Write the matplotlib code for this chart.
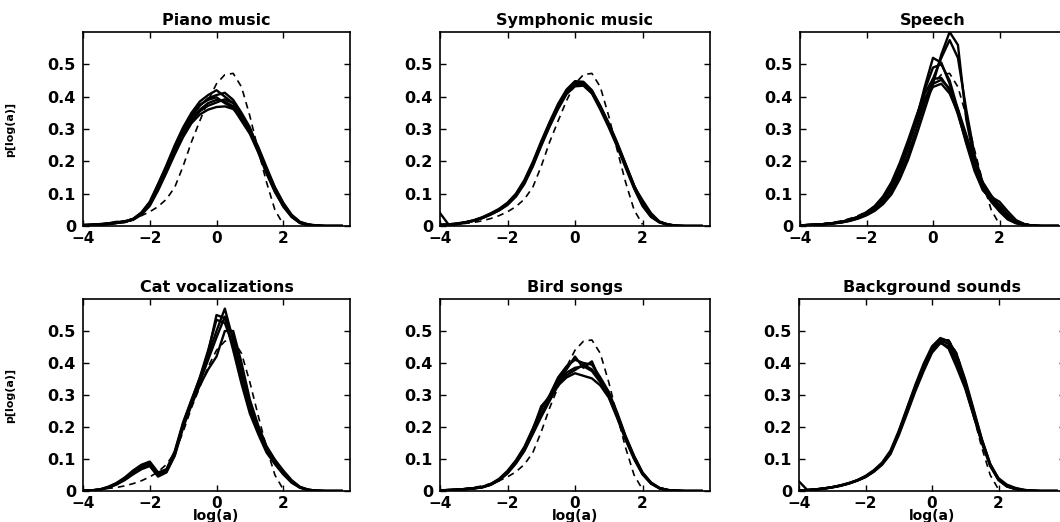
import matplotlib
matplotlib.use("Agg")
import matplotlib.pyplot as plt

plt.rcParams["font.family"] = ["DejaVu Sans"]
plt.rcParams["font.weight"] = "bold"

# common grid of log(a) values used for every curve
x = [-4, -3.75, -3.5, -3.25, -3, -2.75, -2.5, -2.25, -2, -1.75, -1.5, -1.25,
     -1, -0.75, -0.5, -0.25, 0, 0.25, 0.5, 0.75, 1, 1.25, 1.5, 1.75,
     2, 2.25, 2.5, 2.75, 3, 3.25, 3.5, 3.75]

# dashed reference curve (same in every panel)
x_ref = x[:25]
ref = [0.002, 0.003, 0.005, 0.008, 0.011, 0.016, 0.023, 0.032, 0.044, 0.060,
       0.083, 0.120, 0.185, 0.260, 0.325, 0.388, 0.440, 0.468, 0.472, 0.430,
       0.340, 0.235, 0.135, 0.050, 0.005]

piano = [
    [0.003, 0.004, 0.005, 0.007, 0.010, 0.013, 0.020, 0.038, 0.068, 0.120, 0.175, 0.235, 0.290, 0.330, 0.360, 0.380,
     0.390, 0.385, 0.370, 0.330, 0.290, 0.230, 0.165, 0.110, 0.065, 0.030, 0.010, 0.004, 0.001, 0, 0, 0],
    [0.002, 0.003, 0.005, 0.008, 0.013, 0.012, 0.022, 0.042, 0.075, 0.130, 0.188, 0.250, 0.305, 0.350, 0.385, 0.405,
     0.420, 0.400, 0.380, 0.345, 0.300, 0.240, 0.175, 0.115, 0.068, 0.033, 0.012, 0.004, 0.001, 0, 0, 0],
    [0.003, 0.004, 0.006, 0.008, 0.011, 0.014, 0.019, 0.035, 0.062, 0.110, 0.165, 0.222, 0.275, 0.318, 0.345, 0.360,
     0.368, 0.370, 0.362, 0.335, 0.298, 0.245, 0.182, 0.120, 0.072, 0.035, 0.013, 0.005, 0.002, 0, 0, 0],
    [0.002, 0.003, 0.004, 0.006, 0.009, 0.015, 0.021, 0.040, 0.070, 0.125, 0.180, 0.240, 0.298, 0.338, 0.372, 0.395,
     0.405, 0.412, 0.390, 0.350, 0.305, 0.238, 0.170, 0.108, 0.060, 0.028, 0.009, 0.003, 0.001, 0, 0, 0],
    [0.003, 0.004, 0.005, 0.007, 0.010, 0.012, 0.020, 0.036, 0.066, 0.118, 0.170, 0.228, 0.285, 0.325, 0.355, 0.372,
     0.382, 0.392, 0.380, 0.340, 0.295, 0.235, 0.172, 0.118, 0.070, 0.032, 0.011, 0.004, 0.001, 0, 0, 0],
    [0.002, 0.003, 0.004, 0.006, 0.009, 0.013, 0.021, 0.039, 0.072, 0.128, 0.182, 0.245, 0.300, 0.345, 0.375, 0.390,
     0.398, 0.380, 0.365, 0.325, 0.285, 0.228, 0.162, 0.105, 0.062, 0.029, 0.010, 0.003, 0.001, 0, 0, 0],
]

symphonic = [
    [0.004, 0.004, 0.007, 0.011, 0.017, 0.025, 0.037, 0.050, 0.068, 0.095, 0.135, 0.190, 0.255, 0.315, 0.370, 0.415,
     0.440, 0.440, 0.415, 0.365, 0.310, 0.250, 0.185, 0.120, 0.065, 0.030, 0.012, 0.004, 0.001, 0, 0, 0],
    [0.040, 0.005, 0.008, 0.012, 0.018, 0.027, 0.039, 0.053, 0.072, 0.100, 0.142, 0.198, 0.262, 0.322, 0.378, 0.422,
     0.448, 0.446, 0.420, 0.370, 0.315, 0.255, 0.190, 0.125, 0.070, 0.033, 0.013, 0.005, 0.001, 0, 0, 0],
    [0.003, 0.004, 0.006, 0.010, 0.016, 0.024, 0.035, 0.048, 0.065, 0.091, 0.130, 0.184, 0.248, 0.308, 0.362, 0.408,
     0.432, 0.434, 0.410, 0.360, 0.305, 0.245, 0.180, 0.116, 0.062, 0.028, 0.011, 0.004, 0.001, 0, 0, 0],
    [0.004, 0.005, 0.007, 0.011, 0.017, 0.026, 0.038, 0.051, 0.070, 0.097, 0.138, 0.193, 0.258, 0.318, 0.372, 0.418,
     0.445, 0.438, 0.412, 0.368, 0.312, 0.252, 0.188, 0.123, 0.080, 0.040, 0.014, 0.005, 0.001, 0, 0, 0],
    [0.003, 0.004, 0.006, 0.011, 0.016, 0.025, 0.036, 0.049, 0.067, 0.094, 0.134, 0.188, 0.252, 0.312, 0.368, 0.412,
     0.438, 0.443, 0.418, 0.372, 0.318, 0.258, 0.192, 0.126, 0.068, 0.031, 0.012, 0.004, 0.001, 0, 0, 0],
]

speech = [
    [0.002, 0.003, 0.004, 0.006, 0.009, 0.013, 0.019, 0.027, 0.040, 0.058, 0.085, 0.125, 0.180, 0.245, 0.320, 0.385,
     0.430, 0.440, 0.410, 0.350, 0.270, 0.190, 0.125, 0.085, 0.050, 0.025, 0.012, 0.005, 0.001, 0, 0, 0],
    [0.002, 0.003, 0.004, 0.006, 0.009, 0.013, 0.020, 0.029, 0.043, 0.062, 0.092, 0.135, 0.195, 0.265, 0.340, 0.410,
     0.455, 0.458, 0.420, 0.345, 0.260, 0.180, 0.115, 0.080, 0.048, 0.022, 0.010, 0.004, 0.001, 0, 0, 0],
    [0.002, 0.003, 0.004, 0.006, 0.009, 0.012, 0.018, 0.026, 0.038, 0.055, 0.082, 0.122, 0.178, 0.250, 0.335, 0.420,
     0.490, 0.500, 0.450, 0.360, 0.265, 0.180, 0.115, 0.078, 0.055, 0.030, 0.014, 0.005, 0.001, 0, 0, 0],
    [0.002, 0.003, 0.004, 0.006, 0.009, 0.012, 0.018, 0.026, 0.037, 0.053, 0.078, 0.115, 0.168, 0.240, 0.330, 0.430,
     0.520, 0.505, 0.440, 0.350, 0.255, 0.170, 0.110, 0.085, 0.065, 0.035, 0.015, 0.005, 0.001, 0, 0, 0],
    [0.002, 0.003, 0.004, 0.006, 0.008, 0.011, 0.016, 0.023, 0.033, 0.047, 0.068, 0.098, 0.145, 0.205, 0.280, 0.360,
     0.440, 0.530, 0.600, 0.560, 0.330, 0.200, 0.115, 0.075, 0.045, 0.020, 0.008, 0.003, 0.001, 0, 0, 0],
    [0.002, 0.003, 0.004, 0.006, 0.008, 0.011, 0.016, 0.024, 0.035, 0.050, 0.072, 0.105, 0.155, 0.220, 0.300, 0.380,
     0.455, 0.520, 0.575, 0.520, 0.360, 0.220, 0.130, 0.090, 0.075, 0.045, 0.018, 0.006, 0.001, 0, 0, 0],
    [0.002, 0.003, 0.004, 0.006, 0.009, 0.013, 0.019, 0.028, 0.041, 0.060, 0.088, 0.130, 0.188, 0.255, 0.328, 0.395,
     0.440, 0.452, 0.425, 0.362, 0.282, 0.200, 0.135, 0.095, 0.062, 0.032, 0.014, 0.005, 0.001, 0, 0, 0],
]

cat = [
    [0.001, 0.002, 0.004, 0.011, 0.022, 0.038, 0.058, 0.075, 0.085, 0.050, 0.062, 0.118, 0.208, 0.278, 0.348, 0.432,
     0.550, 0.540, 0.440, 0.335, 0.242, 0.178, 0.120, 0.084, 0.052, 0.026, 0.010, 0.003, 0.001, 0, 0, 0],
    [0.001, 0.002, 0.005, 0.013, 0.025, 0.042, 0.064, 0.082, 0.092, 0.058, 0.068, 0.125, 0.215, 0.285, 0.352, 0.425,
     0.500, 0.570, 0.470, 0.360, 0.262, 0.190, 0.130, 0.092, 0.058, 0.030, 0.012, 0.004, 0.001, 0, 0, 0],
    [0.001, 0.002, 0.004, 0.010, 0.020, 0.034, 0.052, 0.068, 0.078, 0.045, 0.058, 0.110, 0.198, 0.268, 0.330, 0.380,
     0.420, 0.500, 0.500, 0.400, 0.285, 0.205, 0.140, 0.098, 0.064, 0.034, 0.013, 0.004, 0.001, 0, 0, 0],
    [0.001, 0.002, 0.004, 0.012, 0.023, 0.040, 0.060, 0.078, 0.088, 0.054, 0.065, 0.120, 0.210, 0.282, 0.355, 0.440,
     0.535, 0.525, 0.455, 0.350, 0.255, 0.185, 0.126, 0.088, 0.055, 0.028, 0.011, 0.003, 0.001, 0, 0, 0],
    [0.001, 0.002, 0.004, 0.011, 0.021, 0.036, 0.055, 0.072, 0.080, 0.048, 0.060, 0.114, 0.202, 0.272, 0.340, 0.410,
     0.480, 0.545, 0.480, 0.375, 0.270, 0.195, 0.135, 0.095, 0.060, 0.031, 0.012, 0.004, 0.001, 0, 0, 0],
]

bird = [
    [0.002, 0.003, 0.004, 0.006, 0.008, 0.012, 0.020, 0.035, 0.058, 0.090, 0.130, 0.185, 0.240, 0.290, 0.340, 0.370,
     0.385, 0.390, 0.375, 0.340, 0.300, 0.235, 0.165, 0.105, 0.055, 0.025, 0.009, 0.003, 0.001, 0, 0, 0],
    [0.002, 0.003, 0.004, 0.006, 0.009, 0.013, 0.022, 0.038, 0.063, 0.096, 0.138, 0.195, 0.255, 0.300, 0.355, 0.390,
     0.410, 0.400, 0.395, 0.355, 0.310, 0.245, 0.172, 0.110, 0.058, 0.027, 0.010, 0.003, 0.001, 0, 0, 0],
    [0.002, 0.003, 0.004, 0.005, 0.008, 0.011, 0.019, 0.033, 0.055, 0.086, 0.125, 0.178, 0.232, 0.282, 0.330, 0.355,
     0.368, 0.360, 0.352, 0.330, 0.292, 0.228, 0.160, 0.100, 0.052, 0.023, 0.008, 0.003, 0.001, 0, 0, 0],
    [0.002, 0.003, 0.004, 0.006, 0.008, 0.012, 0.021, 0.036, 0.060, 0.093, 0.134, 0.192, 0.265, 0.295, 0.348, 0.380,
     0.420, 0.385, 0.405, 0.345, 0.305, 0.240, 0.168, 0.108, 0.057, 0.026, 0.009, 0.003, 0.001, 0, 0, 0],
    [0.002, 0.003, 0.004, 0.006, 0.009, 0.012, 0.020, 0.034, 0.057, 0.088, 0.128, 0.182, 0.238, 0.286, 0.336, 0.362,
     0.378, 0.395, 0.380, 0.348, 0.296, 0.232, 0.162, 0.102, 0.053, 0.024, 0.009, 0.003, 0.001, 0, 0, 0],
]

background = [
    [0.002, 0.003, 0.005, 0.008, 0.012, 0.017, 0.024, 0.033, 0.045, 0.062, 0.085, 0.120, 0.180, 0.250, 0.320, 0.385,
     0.440, 0.470, 0.460, 0.410, 0.335, 0.245, 0.155, 0.080, 0.035, 0.015, 0.007, 0.003, 0.001, 0, 0, 0],
    [0.030, 0.003, 0.005, 0.008, 0.012, 0.018, 0.025, 0.034, 0.047, 0.065, 0.089, 0.126, 0.188, 0.260, 0.332, 0.398,
     0.452, 0.478, 0.468, 0.418, 0.342, 0.250, 0.160, 0.084, 0.038, 0.017, 0.008, 0.003, 0.001, 0, 0, 0],
    [0.002, 0.003, 0.004, 0.007, 0.011, 0.016, 0.023, 0.032, 0.043, 0.060, 0.082, 0.115, 0.174, 0.242, 0.312, 0.375,
     0.432, 0.462, 0.452, 0.400, 0.325, 0.238, 0.150, 0.078, 0.034, 0.014, 0.006, 0.002, 0.001, 0, 0, 0],
    [0.002, 0.003, 0.005, 0.008, 0.012, 0.017, 0.024, 0.033, 0.046, 0.063, 0.086, 0.122, 0.183, 0.255, 0.326, 0.392,
     0.445, 0.465, 0.445, 0.385, 0.320, 0.235, 0.152, 0.082, 0.040, 0.020, 0.010, 0.004, 0.001, 0, 0, 0],
    [0.002, 0.003, 0.005, 0.008, 0.012, 0.017, 0.024, 0.033, 0.045, 0.062, 0.086, 0.121, 0.182, 0.252, 0.322, 0.388,
     0.442, 0.474, 0.470, 0.425, 0.348, 0.256, 0.162, 0.085, 0.036, 0.015, 0.007, 0.003, 0.001, 0, 0, 0],
]

titles = ["Piano music", "Symphonic music", "Speech",
          "Cat vocalizations", "Bird songs", "Background sounds"]
datasets = [piano, symphonic, speech, cat, bird, background]

xticks = [-4, -2, 0, 2]
yticks = [0, 0.1, 0.2, 0.3, 0.4, 0.5]
ytick_labels = ["0", "0.1", "0.2", "0.3", "0.4", "0.5"]

W, H = 1060, 522
fig = plt.figure(figsize=(W / 100, H / 100), dpi=100)

# axes boxes in pixels: left, top, width, height
boxes = [(83, 32, 267, 194), (440, 32, 270, 194), (800, 32, 266, 194),
         (83, 299, 267, 192), (440, 299, 270, 192), (799, 299, 266, 192)]

for i, (title, curves, (l, t, w, h)) in enumerate(zip(titles, datasets, boxes)):
    ax = fig.add_axes([l / W, (H - t - h) / H, w / W, h / H])
    ax.plot(x_ref, ref, color="black", lw=1.2, linestyle=(0, (4, 3)))
    for c in curves:
        ax.plot(x, c, color="black", lw=1.7)

    ax.set_xlim(-4, 4)
    ax.set_ylim(0, 0.6)
    ax.set_xticks(xticks)
    ax.set_yticks(yticks)
    ax.set_yticklabels(ytick_labels)
    ax.tick_params(direction="in", top=True, right=True, length=4, width=1,
                   labelsize=11.5, pad=5)
    ax.tick_params(axis="x", pad=3.5, labelsize=11)
    for s in ax.spines.values():
        s.set_linewidth(1.2)
    ax.set_title(title, fontsize=11.5, fontweight="bold", pad=5)

    if i % 3 == 0:
        ax.set_ylabel("p[log(a)]", fontsize=8, fontweight="bold")
        ax.yaxis.set_label_coords(-0.255, 0.5)
    if i >= 3:
        ax.set_xlabel("log(a)", fontsize=10, fontweight="bold", labelpad=-1)

fig.savefig("out.png", dpi=100)
